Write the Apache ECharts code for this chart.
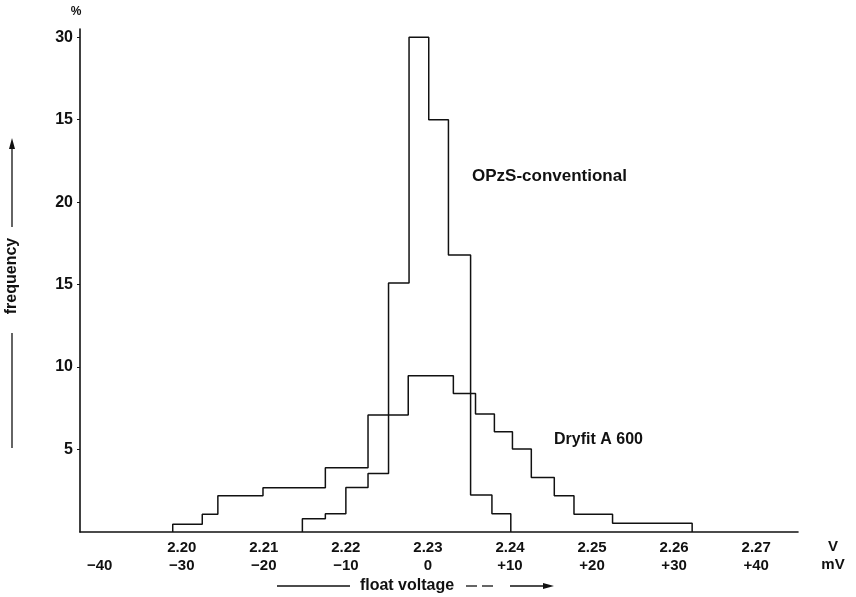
<!DOCTYPE html>
<html>
<head>
<meta charset="utf-8">
<script src="https://cdn.jsdelivr.net/npm/echarts@6/dist/echarts.min.js"></script>
<style>
  html, body { margin: 0; padding: 0; background: #fff; }
  #chart { width: 856px; height: 597px; }
</style>
</head>
<body>
<div id="chart"></div>
<script>
// float voltage deviation in mV, bin edges and frequency in %
var opzsEdges = [-15.3, -12.5, -10, -7.3, -4.8, -2.3, 0.1, 2.5, 5.2, 7.8, 10.1];
var opzsValues = [0.8, 1.1, 2.7, 3.55, 15.1, 30, 25, 16.8, 2.25, 1.1];

var dryEdges = [-31.1, -27.5, -25.6, -20.1, -12.5, -7.3, -2.4, 3.1, 5.8, 8.1, 10.3, 12.6, 15.4, 17.8, 22.5, 32.2];
var dryValues = [0.47, 1.07, 2.2, 2.68, 3.9, 7.1, 9.47, 8.4, 7.15, 6.08, 5.03, 3.3, 2.2, 1.07, 0.53];

// tick labels
var xTickValues = [-40, -30, -20, -10, 0, 10, 20, 30, 40];
var voltLabels = ['', '2.20', '2.21', '2.22', '2.23', '2.24', '2.25', '2.26', '2.27'];
var mvLabels = ['\u221240', '\u221230', '\u221220', '\u221210', '0', '+10', '+20', '+30', '+40'];
var yTickValues = [5, 10, 15, 20, 25, 30];
var yTickLabels = ['5', '10', '15', '20', '15', '30'];

function stepData(edges, values) {
  var d = [[edges[0], 0]];
  for (var i = 0; i < values.length; i++) {
    d.push([edges[i], values[i]]);
  }
  d.push([edges[edges.length - 1], 0]);
  return d;
}

var font = 'Liberation Sans, Arial, Helvetica, sans-serif';
var ink = '#111';
var myChart = echarts.init(document.getElementById('chart'));

var option = {
  animation: false,
  backgroundColor: '#fff',
  grid: { left: 80, right: 58, top: 29, bottom: 65 },
  xAxis: {
    type: 'value',
    min: -42.4,
    max: 45.1,
    splitLine: { show: false },
    axisLine: { show: true, onZero: false, lineStyle: { color: ink, width: 1.6 } },
    axisTick: { show: false },
    axisLabel: {
      customValues: xTickValues,
      margin: 7,
      color: ink,
      fontFamily: font,
      fontWeight: 'bold',
      fontSize: 15,
      lineHeight: 18,
      formatter: function (v) {
        var i = xTickValues.indexOf(v);
        return voltLabels[i] + '\n' + mvLabels[i];
      }
    }
  },
  yAxis: {
    type: 'value',
    min: 0,
    max: 30.5,
    splitLine: { show: false },
    axisLine: { show: true, onZero: false, lineStyle: { color: ink, width: 1.6 } },
    axisTick: { show: true, customValues: yTickValues, length: 3, lineStyle: { color: ink, width: 1 } },
    axisLabel: {
      customValues: yTickValues,
      margin: 7,
      color: ink,
      fontFamily: font,
      fontWeight: 'bold',
      fontSize: 16,
      formatter: function (v) {
        return yTickLabels[yTickValues.indexOf(v)];
      }
    }
  },
  series: [{
    name: 'OPzS-conventional',
    type: 'line',
    step: 'end',
    symbol: 'none',
    lineStyle: { color: ink, width: 1.5 },
    data: stepData(opzsEdges, opzsValues)
  }, {
    name: 'Dryfit A 600',
    type: 'line',
    step: 'end',
    symbol: 'none',
    lineStyle: { color: ink, width: 1.5 },
    data: stepData(dryEdges, dryValues)
  }],
  graphic: [
    { type: 'text', x: 76, y: 12, style: { text: '%', font: 'bold 12px ' + font, fill: ink, align: 'center', verticalAlign: 'middle' } },
    { type: 'text', x: 833, y: 547, style: { text: 'V', font: 'bold 15px ' + font, fill: ink, align: 'center', verticalAlign: 'middle' } },
    { type: 'text', x: 833, y: 565, style: { text: 'mV', font: 'bold 15px ' + font, fill: ink, align: 'center', verticalAlign: 'middle' } },
    { type: 'text', x: 472, y: 176, style: { text: 'OPzS-conventional', font: 'bold 17px ' + font, fill: ink, verticalAlign: 'middle' } },
    { type: 'text', x: 554, y: 440, style: { text: 'Dryfit A 600', font: 'bold 16px ' + font, fill: ink, verticalAlign: 'middle' } },
    // frequency label with arrow
    { type: 'text', x: 12, y: 276, rotation: Math.PI / 2, style: { text: 'frequency', font: 'bold 16px ' + font, fill: ink, align: 'center', verticalAlign: 'middle' } },
    { type: 'line', shape: { x1: 12, y1: 333, x2: 12, y2: 448 }, style: { stroke: ink, lineWidth: 1.3 } },
    { type: 'line', shape: { x1: 12, y1: 227, x2: 12, y2: 146 }, style: { stroke: ink, lineWidth: 1.3 } },
    { type: 'polygon', shape: { points: [[12, 138], [9, 149], [15, 149]] }, style: { fill: ink } },
    // float voltage label with arrow
    { type: 'text', x: 407, y: 586, style: { text: 'float voltage', font: 'bold 16px ' + font, fill: ink, align: 'center', verticalAlign: 'middle' } },
    { type: 'line', shape: { x1: 277, y1: 586, x2: 350, y2: 586 }, style: { stroke: ink, lineWidth: 1.3 } },
    { type: 'line', shape: { x1: 466, y1: 586, x2: 477, y2: 586 }, style: { stroke: ink, lineWidth: 1.3 } },
    { type: 'line', shape: { x1: 482, y1: 586, x2: 493, y2: 586 }, style: { stroke: ink, lineWidth: 1.3 } },
    { type: 'line', shape: { x1: 510, y1: 586, x2: 546, y2: 586 }, style: { stroke: ink, lineWidth: 1.3 } },
    { type: 'polygon', shape: { points: [[554, 586], [543, 583], [543, 589]] }, style: { fill: ink } }
  ]
};

myChart.setOption(option, true);
</script>
</body>
</html>
